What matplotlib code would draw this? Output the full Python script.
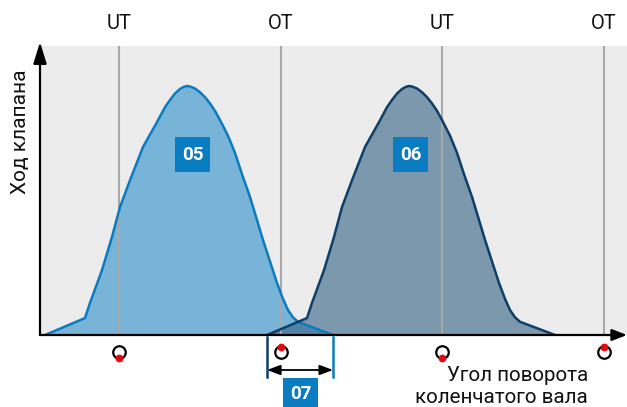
import matplotlib
matplotlib.use("Agg")
import matplotlib.pyplot as plt
from matplotlib.patches import Rectangle
import numpy as np

# ---------------- data ----------------
# crank angle in degrees, valve lift in mm (relative units)
curve05_angle = [97.6, 142.1, 147.7, 161.1, 172.2, 181.1, 192.3, 206.7, 214.5, 222.3, 231.2,
                 236.8, 242.4, 247.9, 252.4, 255.7, 259.1, 264.6, 270.2, 275.8, 281.3, 286.9,
                 292.5, 301.4, 309.2, 317.0, 325.9, 340.3, 355.9, 362.6, 368.2, 373.7, 379.3,
                 418.3]
curve05_lift = [0, 0.68, 1.29, 2.61, 3.94, 5.14, 6.22, 7.55, 8.05, 8.55, 9.15,
                9.44, 9.70, 9.88, 9.97, 10.0, 9.98, 9.90, 9.75, 9.55, 9.30, 9.00,
                8.63, 8.0, 7.31, 6.45, 5.54, 3.82, 2.09, 1.45, 1.0, 0.71, 0.53,
                0]

curve06_angle = [344.8, 389.3, 394.9, 408.3, 419.4, 428.3, 439.5, 453.9, 461.7, 469.5, 478.4,
                 484.0, 489.6, 495.1, 499.6, 502.9, 506.3, 511.8, 517.4, 523.0, 528.5, 534.1,
                 539.7, 548.6, 556.4, 564.2, 573.1, 587.5, 603.1, 609.8, 615.4, 620.9, 626.5,
                 665.5]
curve06_lift = [0, 0.68, 1.29, 2.61, 3.94, 5.14, 6.22, 7.55, 8.05, 8.55, 9.15,
                9.44, 9.70, 9.88, 9.97, 10.0, 9.98, 9.90, 9.75, 9.55, 9.30, 9.00,
                8.63, 8.0, 7.31, 6.45, 5.54, 3.82, 2.09, 1.45, 1.0, 0.71, 0.53,
                0]

dead_centre_angle = [180, 360, 540, 720]
dead_centre_label = ["UT", "OT", "UT", "OT"]

label05 = "05"
label06 = "06"
label07 = "07"
y_label = "Ход клапана"
x_label_line1 = "Угол поворота"
x_label_line2 = "коленчатого вала"

# ---------------- style ----------------
W, H = 627, 407
DPI = 100
FONT = ["Roboto", "DejaVu Sans"]
plt.rcParams["font.family"] = FONT

BG = "#ececec"
VLINE = "#a8a8a8"
FILL05 = "#77b4d8"
EDGE05 = "#0b7bc1"
FILL06 = "#7b98ad"
EDGE06 = "#0e3f69"
OVERLAP = "#5282a7"
BOX = "#0a7cc2"
RED = "#e30613"
TXT = "#111111"

fig = plt.figure(figsize=(W / DPI, H / DPI), dpi=DPI)

# axes box in pixels: x 40..627, y 46..335
ax_left, ax_right, ax_top, ax_bottom = 40, 627, 46, 335
ax = fig.add_axes([ax_left / W, (H - ax_bottom) / H,
                   (ax_right - ax_left) / W, (ax_bottom - ax_top) / H])

px_per_deg = (604 - 119) / 540.0
x0 = 180 - (119 - ax_left) / px_per_deg
x1 = 720 + (ax_right - 604) / px_per_deg
px_per_mm = (335 - 86) / 10.0
ax.set_xlim(x0, x1)
ax.set_ylim(0, (ax_bottom - ax_top) / px_per_mm)
ax.set_facecolor(BG)
for s in ax.spines.values():
    s.set_visible(False)
ax.set_xticks([])
ax.set_yticks([])

def mm(px):
    return px / px_per_mm

# fills
ax.fill_between(curve05_angle, curve05_lift, 0, color=FILL05, lw=0, zorder=1)
ax.fill_between(curve06_angle, curve06_lift, 0, color=FILL06, lw=0, zorder=1.1)
# overlap of the two fills
grid = np.union1d(curve05_angle, curve06_angle)
l5 = np.interp(grid, curve05_angle, curve05_lift, left=0, right=0)
l6 = np.interp(grid, curve06_angle, curve06_lift, left=0, right=0)
ov = np.minimum(l5, l6)
ax.fill_between(grid, ov, 0, where=ov > 0, color=OVERLAP, lw=0, zorder=1.2, interpolate=True)

# dead centre lines
for a in dead_centre_angle:
    ax.axvline(a, color=VLINE, lw=1.5, zorder=2)

# outlines
ax.plot(curve05_angle, curve05_lift, color=EDGE05, lw=1.8, zorder=3, solid_joinstyle="round")
ax.plot(curve06_angle, curve06_lift, color=EDGE06, lw=1.8, zorder=3.1, solid_joinstyle="round")

# axes arrows
ax.annotate("", xy=(0, 1.0 + 4 / 290), xytext=(0, 0), xycoords="axes fraction",
            arrowprops=dict(arrowstyle="-|>,head_length=1.3,head_width=0.4", color="black",
                            lw=1.6, shrinkA=0, shrinkB=0), annotation_clip=False, zorder=5)
ax.annotate("", xy=(1.0, 0), xytext=(0, 0), xycoords="axes fraction",
            arrowprops=dict(arrowstyle="-|>,head_length=0.9,head_width=0.35", color="black",
                            lw=1.6, shrinkA=0, shrinkB=0), annotation_clip=False, zorder=5)

# top labels
for a, lab in zip(dead_centre_angle, dead_centre_label):
    ax.text(a, mm(335 - 24), lab, ha="center", va="center", fontsize=14.5, color=TXT,
            clip_on=False)

# circles with red dots under the axis
cy = mm(-17)
for a, lab in zip(dead_centre_angle, dead_centre_label):
    ax.plot([a], [cy], "o", ms=9, mfc="white", mec="black", mew=1.6, clip_on=False, zorder=6)
    dy = mm(5.5) if lab == "OT" else -mm(5.5)
    ax.plot([a], [cy + dy], "o", ms=5.6, mfc=RED, mec="none", clip_on=False, zorder=7)

# overlap bracket (07)
ov_start = curve06_angle[0]
ov_end = curve05_angle[-1]
ax.plot([ov_start, ov_start], [mm(-2), mm(-42)], color=EDGE06, lw=1.8, clip_on=False, zorder=5)
ax.plot([ov_end, ov_end], [mm(-2), mm(-42)], color=EDGE05, lw=1.8, clip_on=False, zorder=5)
ax.annotate("", xy=(ov_end, mm(-35)), xytext=(ov_start, mm(-35)),
            arrowprops=dict(arrowstyle="<|-|>,head_length=0.8,head_width=0.3", color="black",
                            lw=1.3, shrinkA=0, shrinkB=0), annotation_clip=False, zorder=6)

# numbered boxes (figure pixel coordinates)
def box(cx, cy_px, text, w=35, h=35):
    fig.patches.append(Rectangle(((cx - w / 2) / W, 1 - (cy_px + h / 2) / H), w / W, h / H,
                                 transform=fig.transFigure, facecolor=BOX, edgecolor="none",
                                 zorder=10))
    fig.text(cx / W, 1 - cy_px / H, text, ha="center", va="center", color="white",
             fontsize=13.5, fontweight="bold", zorder=11)

box(192.5, 154.5, label05)
box(410.5, 154.5, label06)
fig.patches.append(Rectangle((283 / W, 0), 35 / W, (407 - 378) / H, transform=fig.transFigure,
                             facecolor=BOX, edgecolor="none", zorder=10))
fig.text(300.5 / W, 1 - 394 / H, label07, ha="center", va="center", color="white",
         fontsize=13.5, fontweight="bold", zorder=11)

# axis labels
fig.text(21 / W, 1 - 132 / H, y_label, rotation=90, ha="center", va="center",
         fontsize=15, color=TXT)
fig.text(447 / W, 1 - 381 / H, x_label_line1, ha="left", va="baseline", fontsize=14.8,
         color=TXT)
fig.text(415 / W, 1 - 403 / H, x_label_line2, ha="left", va="baseline", fontsize=14.8,
         color=TXT)

fig.savefig("out.png", dpi=DPI)
